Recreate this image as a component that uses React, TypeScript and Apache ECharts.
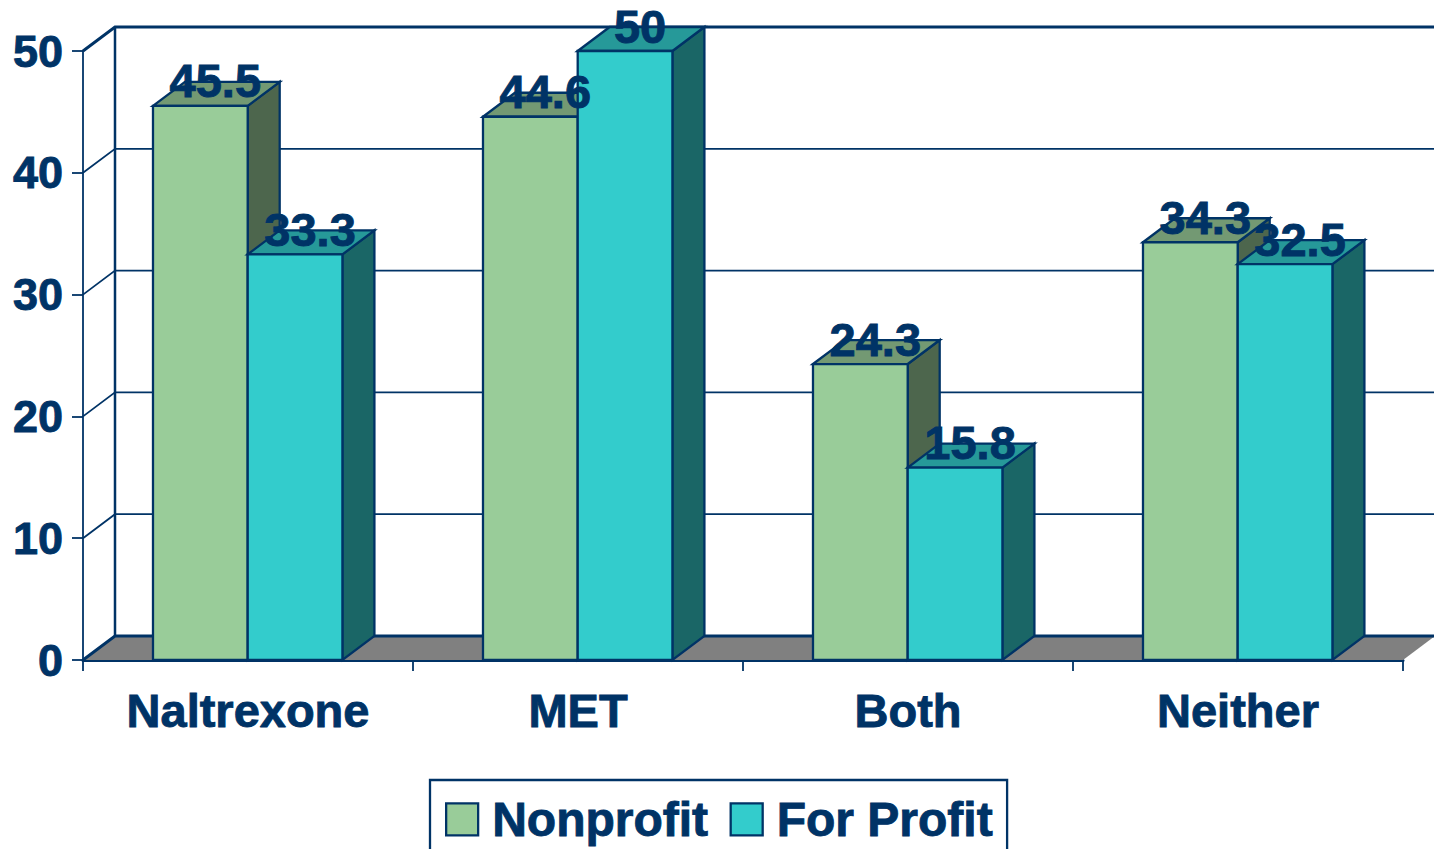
import React, { useEffect, useRef } from "react";
import * as echarts from "echarts";

const categories = ["Naltrexone", "MET", "Both", "Neither"];
const nonprofit = [45.5, 44.6, 24.3, 34.3];
const forProfit = [33.3, 50, 15.8, 32.5];
const yTicks = [0, 10, 20, 30, 40, 50];

const INK = "#003366";
const FONT = "'Liberation Sans', Arial, sans-serif";
const DX = 32;
const DY = -24;
const BAR_FRACTION = 0.287;
const TEXT_HALO = { textBorderColor: INK, textBorderWidth: 0.9 };

const poly = (points: number[][], fill: string, z2 = 0) => ({
  type: "polygon",
  z2,
  shape: { points },
  style: { fill, stroke: INK, lineWidth: 2.3, lineJoin: "miter" },
});

const barRenderer = (offsetSign: number, front: string, top: string, side: string) => (params: any, api: any) => {
  const cat = api.value(0);
  const v = api.value(1);
  const base = api.coord([cat, 0]);
  const tip = api.coord([cat, v]);
  const w = api.size([1, 0])[0] * BAR_FRACTION;
  const x0 = offsetSign < 0 ? base[0] - w - 0.3 : base[0] - 0.3;
  const x1 = x0 + w;
  const y = tip[1];
  const y0 = base[1];
  return {
    type: "group",
    children: [
      poly([[x1, y], [x1 + DX, y + DY], [x1 + DX, y0 + DY], [x1, y0]], side),
      poly([[x0, y], [x0 + DX, y + DY], [x1 + DX, y + DY], [x1, y]], top),
      poly([[x0, y], [x1, y], [x1, y0], [x0, y0]], front),
      {
        type: "text",
        z2: 100,
        style: {
          x: (x0 + x1) / 2 + 15,
          y: y - 25,
          text: String(v),
          fill: INK,
          stroke: INK,
          lineWidth: 0.9,
          font: `bold 47px ${FONT}`,
          align: "center",
          verticalAlign: "middle",
        },
      },
    ],
  };
};

const wallRenderer = (params: any, api: any) => {
  const v = api.value(0);
  const cs = params.coordSys;
  const y = api.coord([0, v])[1];
  const left = cs.x;
  const right = cs.x + cs.width;
  const children: any[] = [];
  if (v === 0) {
    children.push({
      type: "polygon",
      shape: { points: [[left, y], [left + DX, y + DY], [right + DX, y + DY], [right, y]] },
      style: { fill: "#808080", stroke: "none" },
    });
    children.push({
      type: "line",
      shape: { x1: left + DX, y1: y + DY, x2: left + DX, y2: cs.y + DY },
      style: { stroke: INK, lineWidth: 2.5 },
    });
  }
  const heavy = v === 0 || v === 50;
  children.push({
    type: "polyline",
    shape: { points: [[left, y], [left + DX, y + DY], [right + DX, y + DY]] },
    style: { stroke: INK, lineWidth: heavy ? 3 : 1.8, fill: "none" },
  });
  return { type: "group", children };
};

export default function App() {
  const ref = useRef<HTMLDivElement>(null);
  useEffect(() => {
    const chart = echarts.init(ref.current!, undefined, { renderer: "svg" });
    chart.setOption({
      animation: false,
      backgroundColor: "#ffffff",
      textStyle: { fontFamily: FONT },
      grid: { left: 83, top: 51, width: 1320, height: 609, containLabel: false },
      legend: {
        left: 430,
        top: 780,
        orient: "horizontal",
        padding: [15, 14, 24, 15],
        itemWidth: 32,
        itemHeight: 32,
        itemGap: 21,
        borderColor: INK,
        borderWidth: 2.3,
        selectedMode: false,
        textStyle: {
          color: INK,
          fontSize: 48,
          fontWeight: "bold",
          fontFamily: FONT,
          padding: [0, 0, 0, 9],
          ...TEXT_HALO,
        },
        data: [
          { name: "Nonprofit", icon: "rect", itemStyle: { color: "#99CC99", borderColor: INK, borderWidth: 2.3 } },
          { name: "For Profit", icon: "rect", itemStyle: { color: "#33CCCC", borderColor: INK, borderWidth: 2.3 } },
        ],
      },
      xAxis: {
        type: "category",
        data: categories,
        boundaryGap: true,
        axisLine: { show: true, onZero: false, lineStyle: { color: INK, width: 3 } },
        axisTick: { show: true, length: 11, lineStyle: { color: INK, width: 1.8 } },
        axisLabel: {
          color: INK,
          fontSize: 47,
          fontWeight: "bold",
          fontFamily: FONT,
          margin: 27,
          interval: 0,
          ...TEXT_HALO,
        },
        splitLine: { show: false },
      },
      yAxis: {
        type: "value",
        min: 0,
        max: 50,
        interval: 10,
        axisLine: { show: true, lineStyle: { color: INK, width: 1.8 } },
        axisTick: { show: true, length: 11, lineStyle: { color: INK, width: 1.8 } },
        axisLabel: {
          color: INK,
          fontSize: 45,
          fontWeight: "bold",
          fontFamily: FONT,
          margin: 20,
          padding: [0, 0, 2, 0],
          ...TEXT_HALO,
        },
        splitLine: { show: false },
      },
      series: [
        {
          type: "custom",
          name: "wall",
          z: 1,
          silent: true,
          coordinateSystem: "cartesian2d",
          clip: false,
          data: yTicks.map((t) => [t]),
          encode: { y: 0 },
          renderItem: wallRenderer,
        },
        {
          type: "custom",
          name: "Nonprofit",
          z: 3,
          clip: false,
          itemStyle: { color: "#99CC99" },
          data: nonprofit.map((v, i) => [i, v]),
          encode: { x: 0, y: 1 },
          renderItem: barRenderer(-1, "#99CC99", "#739973", "#4D664D"),
        },
        {
          type: "custom",
          name: "For Profit",
          z: 3,
          clip: false,
          itemStyle: { color: "#33CCCC" },
          data: forProfit.map((v, i) => [i, v]),
          encode: { x: 0, y: 1 },
          renderItem: barRenderer(1, "#33CCCC", "#269999", "#1A6666"),
        },
      ],
    });
    return () => chart.dispose();
  }, []);
  return (
    <div
      ref={ref}
      style={{ position: "fixed", left: 0, top: 0, width: 1434, height: 849, overflow: "hidden" }}
    />
  );
}
